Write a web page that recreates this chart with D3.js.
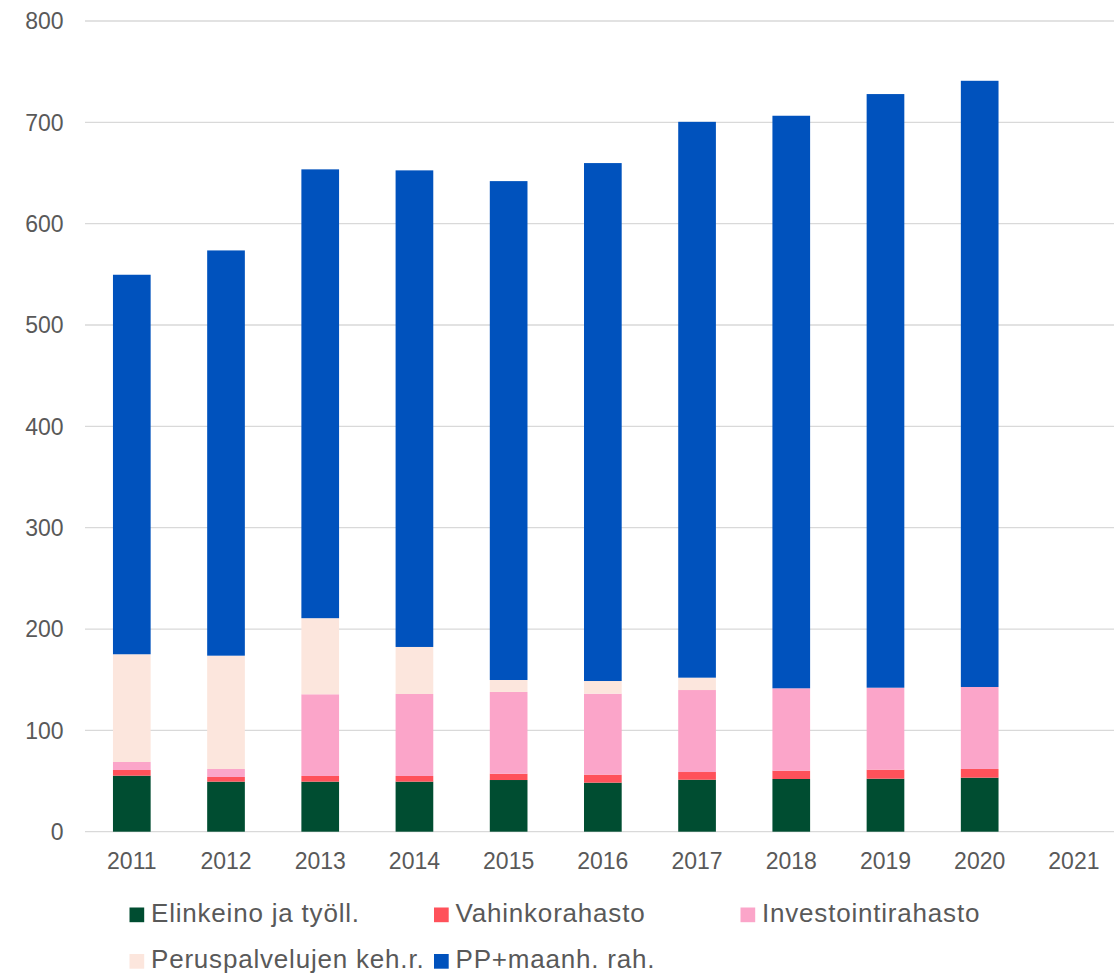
<!DOCTYPE html>
<html>
<head>
<meta charset="utf-8">
<script src="https://cdn.jsdelivr.net/npm/d3@7"></script>
<style>
body { margin: 0; background: #fff; }
text { font-family: "Liberation Sans", Arial, sans-serif; fill: #595959; }
</style>
</head>
<body>
<svg></svg>
<script>
// data
const years = ["2011","2012","2013","2014","2015","2016","2017","2018","2019","2020","2021"]
const seriesNames = ["Elinkeino ja työll.", "Vahinkorahasto", "Investointirahasto", "Peruspalvelujen keh.r.", "PP+maanh. rah."]
const seriesColors = ["#004d31", "#ff515a", "#fba5c9", "#fce6dd", "#0052bd"]
const elinkeino = [55.3, 49.4, 49.4, 49.4, 51.0, 48.4, 51.3, 52.0, 52.3, 53.3, 0]
const vahinko = [5.6, 4.6, 5.6, 5.6, 6.2, 7.9, 7.6, 8.2, 8.9, 8.6, 0]
const investointi = [7.9, 7.9, 80.6, 80.9, 80.7, 79.9, 80.9, 81.3, 80.9, 80.9, 0]
const peruspalvelu = [106.3, 111.8, 75.1, 46.4, 11.8, 12.5, 12.2, 0, 0, 0, 0]
const ppMaanh = [374.5, 399.9, 442.9, 470.3, 492.3, 511.1, 548.5, 565.0, 585.8, 598.2, 0]
const yTicks = [0, 100, 200, 300, 400, 500, 600, 700, 800]

const svg = d3.select("svg")
	.attr("width", 1114)
	.attr("height", 974)

const keys = ["e", "v", "i", "p", "pp"]
const rows = years.map((y, i) => {
	return {year: y, e: elinkeino[i], v: vahinko[i], i: investointi[i], p: peruspalvelu[i], pp: ppMaanh[i]}
})
const stacked = d3.stack().keys(keys)(rows)

const x = d3.scaleBand()
	.domain(years)
	.range([84.7, 1121])
	.paddingInner(0.6)
	.paddingOuter(0.3)

const y = d3.scaleLinear()
	.domain([0, 800])
	.range([831.7, 21])

//gridlines
svg.append("g")
	.selectAll("line")
	.data(yTicks)
	.enter()
	.append("line")
	.attr("x1", 85)
	.attr("x2", 1114)
	.attr("y1", d => y(d))
	.attr("y2", d => y(d))
	.attr("stroke", "#d9d9d9")
	.attr("stroke-width", 1.3)

//y labels
svg.append("g")
	.selectAll("text")
	.data(yTicks)
	.enter()
	.append("text")
	.attr("x", 63.5)
	.attr("y", d => y(d) + 8.3)
	.attr("text-anchor", "end")
	.style("font-size", "23px")
	.text(d => d)

//bars
svg.append("g")
	.selectAll("g")
	.data(stacked)
	.enter()
	.append("g")
	.attr("fill", (d, i) => seriesColors[i])
	.selectAll("rect")
	.data(d => d)
	.enter()
	.append("rect")
	.attr("x", d => x(d.data.year))
	.attr("width", x.bandwidth())
	.attr("y", d => y(d[1]))
	.attr("height", d => y(d[0]) - y(d[1]))

//x labels
svg.append("g")
	.selectAll("text")
	.data(years)
	.enter()
	.append("text")
	.attr("x", d => x(d) + x.bandwidth() / 2)
	.attr("y", 869.3)
	.attr("text-anchor", "middle")
	.style("font-size", "23px")
	.text(d => d)

//legend
const legendX = [129.5, 434, 740.5, 129.5, 434]
const legendY = [907.5, 907.5, 907.5, 954, 954]
const legend = svg.append("g")
	.selectAll("g")
	.data(seriesNames)
	.enter()
	.append("g")
	.attr("transform", (d, i) => `translate(${legendX[i]},${legendY[i]})`)

legend.append("rect")
	.attr("width", 14.7)
	.attr("height", 14.7)
	.attr("fill", (d, i) => seriesColors[i])

legend.append("text")
	.attr("x", 21.5)
	.attr("y", 14.3)
	.style("font-size", "26px")
	.style("letter-spacing", "0.8px")
	.text(d => d)
</script>
</body>
</html>
